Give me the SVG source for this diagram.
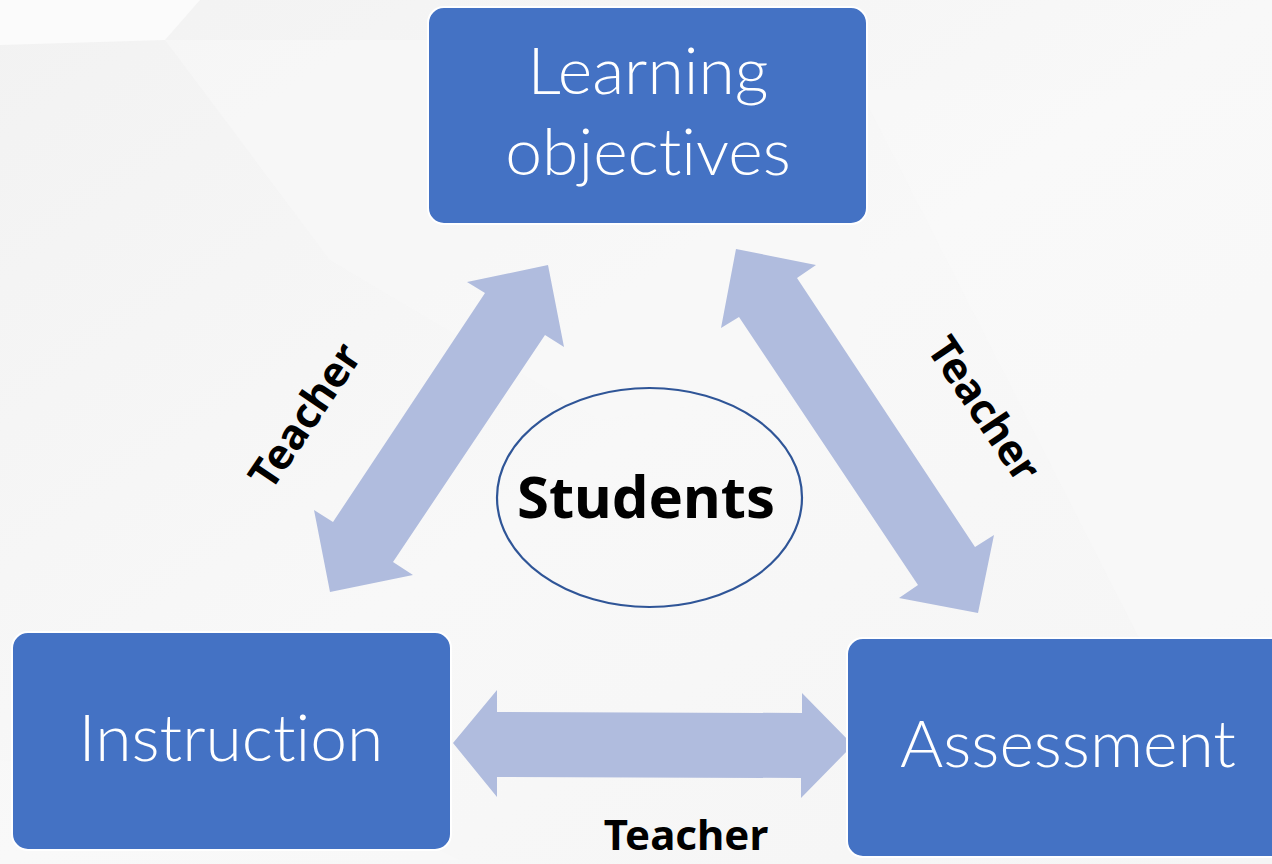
<svg xmlns="http://www.w3.org/2000/svg" width="1272" height="864" viewBox="0 0 1272 864">
  <defs>
    <style>
      .box { fill: #4472C4; stroke: #FFFFFF; stroke-width: 2; }
      .boxtxt { fill: #FFFFFF; font-family: Lato, "Noto Sans", "Open Sans", sans-serif; font-weight: 300; font-size: 66px; text-anchor: middle; font-variant-ligatures: none; }
      .conn { fill: #B0BCDE; }
      .lbl { fill: #000000; font-family: "Noto Sans", "Liberation Sans", sans-serif; font-weight: 700; font-size: 42px; text-anchor: middle; }
      .center { fill: none; stroke: #2F5597; stroke-width: 2.2; }
      .centertxt { fill: #000000; font-family: "Noto Sans", "Liberation Sans", sans-serif; font-weight: 700; font-size: 58px; text-anchor: middle; }
    </style>
    <linearGradient id="bg" x1="0" y1="0" x2="1" y2="1">
      <stop offset="0" stop-color="#F2F2F2"/>
      <stop offset="0.5" stop-color="#F8F8F8"/>
      <stop offset="1" stop-color="#F5F5F5"/>
    </linearGradient>
  </defs>

  <g id="background">
    <rect x="0" y="0" width="1272" height="864" fill="url(#bg)"/>
    <polygon points="0,0 200,0 165,40 0,45" fill="#FBFBFB"/>
    <polygon points="165,40 330,260 600,420 860,380 860,230 440,230 430,40" fill="#F9F9F9" opacity="0.6"/>
    <polygon points="860,90 1272,90 1272,640 1140,640" fill="#F9F9F9" opacity="0.5"/>
    <polygon points="0,860 460,860 300,780 0,760" fill="#F9F9F9" opacity="0.5"/>
  </g>

  <g id="connectors">
    <polygon class="conn" points="548,265 564,347 545,335 393,562 413,575 330,592 314,510 333,522 485,293 467,282"/>
    <polygon class="conn" points="736,249 816,265 797,278 975,547 994,535 978,613 899,598 918,585 739,317 721,328"/>
    <polygon class="conn" points="453,743 497,690 497,712 802,713 802,693 853,745 801,798 801,778 497,777 497,797"/>
  </g>

  <g id="node-learning-objectives">
    <rect class="box" x="428" y="7" width="439" height="217" rx="16"/>
    <text class="boxtxt" x="648" y="94">Learning</text>
    <text class="boxtxt" x="648" y="175">objectives</text>
  </g>

  <g id="node-instruction">
    <rect class="box" x="12" y="632" width="439" height="218" rx="16"/>
    <text class="boxtxt" x="231" y="761">Instruction</text>
  </g>

  <g id="node-assessment">
    <rect class="box" x="847" y="638" width="445" height="219" rx="16"/>
    <text class="boxtxt" x="1068" y="767">Assessment</text>
  </g>

  <g id="node-students">
    <ellipse class="center" cx="649.5" cy="497.5" rx="152.5" ry="109.5"/>
    <text class="centertxt" x="646" y="518">Students</text>
  </g>

  <g id="labels">
    <text class="lbl" transform="translate(317,424) rotate(-56)" x="0" y="0">Teacher</text>
    <text class="lbl" transform="translate(972,417) rotate(56)" x="0" y="0">Teacher</text>
    <text class="lbl" x="686" y="850">Teacher</text>
  </g>
</svg>
